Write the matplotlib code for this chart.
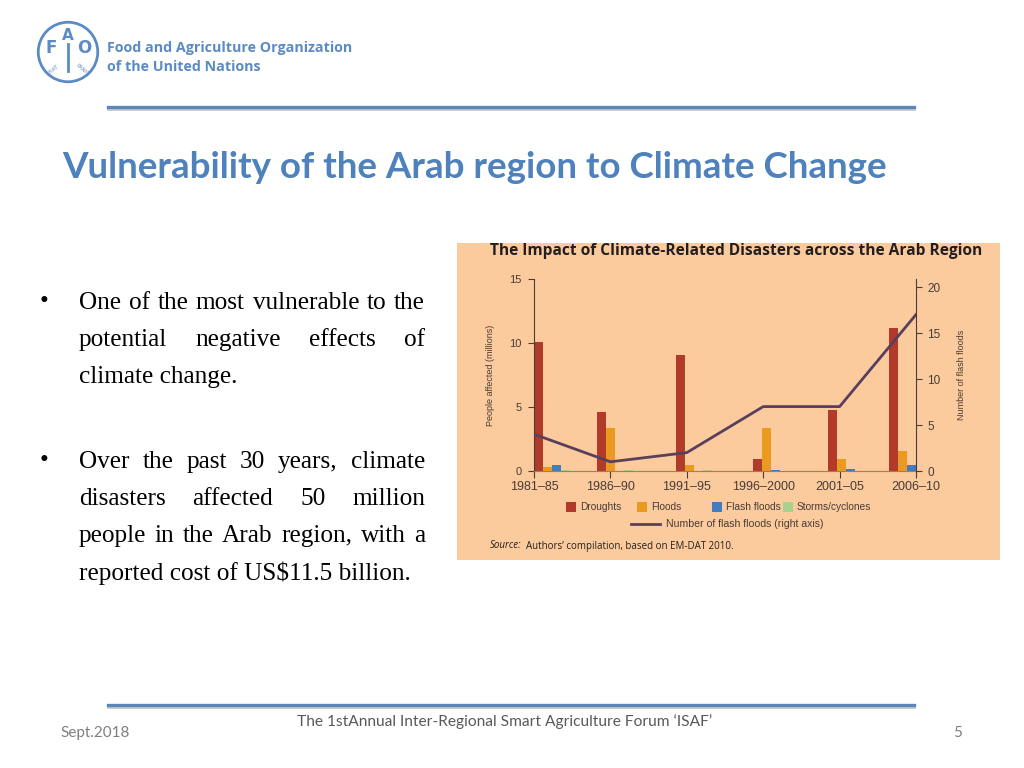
import numpy as np
import matplotlib
matplotlib.use("Agg")
import matplotlib.pyplot as plt
from matplotlib.patches import Rectangle, Circle
from matplotlib.lines import Line2D

# chart data
periods = ["1981–85", "1986–90", "1991–95", "1996–2000", "2001–05", "2006–10"]
droughts = [10.05, 4.6, 9.1, 0.97, 4.8, 11.15]
floods = [0.3, 3.36, 0.45, 3.36, 0.9, 1.6]
flash_floods = [0.45, 0.02, 0.0, 0.1, 0.12, 0.45]
storms = [0.05, 0.05, 0.05, 0.0, 0.0, 0.0]
n_flash_floods = [4, 1, 2, 7, 7, 17]

series_names = ["Droughts", "Floods", "Flash floods", "Storms/cyclones"]
series_colors = ["#B23A2B", "#EA9A1E", "#3F7DC0", "#A9D18E"]

bullet1 = ["One of the most vulnerable to the",
           "potential negative effects of",
           "climate change."]
bullet2 = ["Over the past 30 years, climate",
           "disasters affected 50 million",
           "people in the Arab region, with a",
           "reported cost of US$11.5 billion."]

W, H = 1024, 768
fig = plt.figure(figsize=(10.24, 7.68), dpi=100)
fig.patch.set_facecolor("white")


def px(x):
    return x / W


def py(y):
    return 1 - y / H


blue = "#4F81BD"
renderer = fig.canvas.get_renderer()


def text_line(line, x0, x1, y, justify, **kw):
    if not justify:
        fig.text(px(x0), py(y), line, va="center", ha="left", **kw)
        return
    words = line.split()
    texts = [fig.text(0, py(y), w, va="center", ha="left", **kw) for w in words]
    widths = [t.get_window_extent(renderer).width for t in texts]
    gap = (x1 - x0 - sum(widths)) / (len(words) - 1)
    x = x0
    for t, w in zip(texts, widths):
        t.set_x(px(x))
        x += w + gap


# ---- logo ----
lax = fig.add_axes([px(36), py(84), px(64), 64 / H])
lax.set_xlim(-1, 1)
lax.set_ylim(-1, 1)
lax.set_aspect("equal")
lax.axis("off")
lax.add_patch(Circle((0, 0), 0.93, fill=False, ec="#5B8BC5", lw=2))
lax.text(-0.52, 0.12, "F", color="#5B8BC5", fontsize=12, fontweight="bold", ha="center", va="center")
lax.text(0.0, 0.52, "A", color="#5B8BC5", fontsize=11, fontweight="bold", ha="center", va="center")
lax.text(0.52, 0.12, "O", color="#5B8BC5", fontsize=12, fontweight="bold", ha="center", va="center")
lax.plot([0, 0], [-0.6, 0.25], color="#5B8BC5", lw=2)
lax.text(-0.45, -0.55, "FIAT", color="#5B8BC5", fontsize=4, rotation=40, ha="center", va="center")
lax.text(0.45, -0.55, "PANIS", color="#5B8BC5", fontsize=4, rotation=-40, ha="center", va="center")
fig.text(px(107), py(48), "Food and Agriculture Organization", color="#5B8BC5",
         fontsize=10.3, fontweight="bold", family="Open Sans", va="center")
fig.text(px(107), py(67), "of the United Nations", color="#5B8BC5",
         fontsize=10.3, fontweight="bold", family="Open Sans", va="center")

# ---- separators ----
for yy in (107, 705):
    fig.add_artist(Line2D([px(108), px(914)], [py(yy + 2), py(yy + 2)], color="#C8C8C8", lw=2))
    fig.add_artist(Line2D([px(108), px(914)], [py(yy), py(yy)], color="#5B86B8", lw=2.4))

# ---- title ----
fig.text(px(62), py(167), "Vulnerability of the Arab region to Climate Change",
         color=blue, fontsize=26.5, fontweight="bold", family="Lato", va="center")

# ---- bullets ----
tkw = dict(fontsize=18.2, family="Liberation Serif", color="black")
fig.text(px(40), py(302), "•", va="center", ha="left", **tkw)
for i, line in enumerate(bullet1):
    text_line(line, 79, 425, 303 + 37 * i, i in (0, 1), **tkw)
fig.text(px(40), py(461), "•", va="center", ha="left", **tkw)
for i, line in enumerate(bullet2):
    text_line(line, 79, 425, 462 + 37 * i, i in (0, 1, 2), **tkw)

# ---- chart panel ----
fig.add_artist(Rectangle((px(457), py(560)), px(1000 - 457), (560 - 243) / H,
                         facecolor="#FBCB9E", edgecolor="none", zorder=0))
fig.text(px(490), py(251), "The Impact of Climate-Related Disasters across the Arab Region",
         fontsize=11.2, fontweight="bold", family="Open Sans", color="#231F20", va="center")

narrow = "Liberation Sans"
axc = "#4A3B35"
ax = fig.add_axes([px(534), py(471), px(916 - 534), (471 - 279) / H])
ax.patch.set_alpha(0)

x = np.arange(len(periods))
bw = 0.118
group_shift = [0.0, -0.17, -0.145, -0.13, -0.155, -0.355]
vals = [droughts, floods, flash_floods, storms]
for k, (v, c, name) in enumerate(zip(vals, series_colors, series_names)):
    ax.bar(x + np.array(group_shift) + k * bw, v, width=bw, align="edge",
           color=c, label=name, zorder=2)
ax.set_xlim(0, 5)
ax.set_ylim(0, 15)
ax.set_yticks([0, 5, 10, 15])
ax.set_xticks(x)
ax.set_xticklabels(periods, family=narrow, fontsize=9, color=axc)
for lab in ax.get_yticklabels():
    lab.set_family(narrow)
ax.tick_params(axis="y", labelsize=8, colors=axc, length=4, width=0.8, pad=5)
ax.tick_params(axis="x", length=5, width=0.8, colors=axc, pad=2)
ax.spines["top"].set_visible(False)
ax.spines["right"].set_visible(False)
ax.spines["left"].set_color(axc)
ax.spines["bottom"].set_color("#A67C5B")
ax.set_ylabel("People affected (millions)", family=narrow, fontsize=6.5, color=axc, labelpad=10)

ax2 = ax.twinx()
ax2.plot(x, n_flash_floods, color="#5A3F5C", lw=2, zorder=3)
ax2.set_ylim(0, 20.87)
ax2.set_yticks([0, 5, 10, 15, 20])
for lab in ax2.get_yticklabels():
    lab.set_family(narrow)
ax2.tick_params(axis="y", labelsize=8.5, colors=axc, length=4, width=0.8, pad=4)
for s in ("top", "left", "bottom"):
    ax2.spines[s].set_visible(False)
ax2.spines["right"].set_color(axc)
ax2.set_ylabel("Number of flash floods", family=narrow, fontsize=6.5, color=axc, labelpad=12)
ax2.set_xlim(0, 5)

# legend, laid out by hand like the printed figure
leg_x = [566, 637, 712, 783]
for lx, c, name in zip(leg_x, series_colors, series_names):
    fig.add_artist(Rectangle((px(lx), py(512)), px(10), 10 / H, facecolor=c, edgecolor="none"))
    fig.text(px(lx + 14), py(507), name, family=narrow, fontsize=7.3, color=axc, va="center")
fig.add_artist(Line2D([px(631), px(660)], [py(524), py(524)], color="#5A3F5C", lw=2))
fig.text(px(666), py(524), "Number of flash floods (right axis)", family=narrow, fontsize=7.6,
         color=axc, va="center")

fig.text(px(490), py(546), "Source:", fontsize=7, style="italic", family="Open Sans",
         color="#231F20", va="center")
fig.text(px(526), py(546), "Authors’ compilation, based on EM-DAT 2010.", fontsize=7,
         family="Open Sans", color="#231F20", va="center")

# ---- footer ----
fig.text(px(505), py(722), "The 1stAnnual Inter-Regional Smart Agriculture Forum ‘ISAF’",
         fontsize=11.2, family="Lato", color="#595959", ha="center", va="center")
fig.text(px(60), py(733), "Sept.2018", fontsize=11, family="Lato", color="#7F7F7F", va="center")
fig.text(px(958), py(733), "5", fontsize=11, family="Lato", color="#7F7F7F", ha="center", va="center")

fig.savefig("out.png", dpi=100, facecolor="white")
